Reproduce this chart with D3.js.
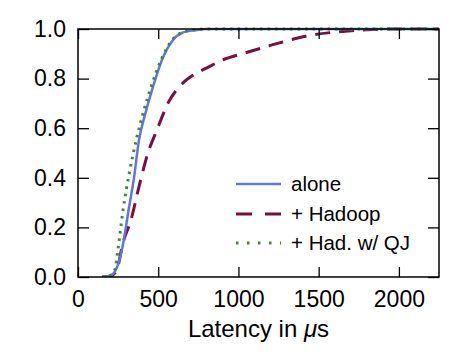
<!DOCTYPE html>
<html lang="en">
	<head>
		<meta charset="utf-8">
		<title>Latency CDF</title>
		<script type="text/javascript" src="https://cdn.jsdelivr.net/npm/d3@7"></script>
		<style type="text/css">
			body { margin: 0; background: #fff; }
			text { font-family: "Liberation Sans", Arial, sans-serif; }
		</style>
	</head>
	<body>
		<script type="text/javascript">

			//Data (latency in us, cumulative fraction)
			var seriesNames = ["alone", "+ Hadoop", "+ Had. w/ QJ"];

			var aloneX = [150, 200, 237, 274, 318, 349, 380, 420, 467, 523, 592, 650, 741, 800, 2250];
			var aloneY = [0, 0.005, 0.03, 0.11, 0.28, 0.40, 0.552, 0.66, 0.766, 0.875, 0.956, 0.985, 0.996, 1, 1];

			var hadoopX = [150, 200, 220, 243, 280, 330, 386, 436, 492, 560, 654, 720, 800, 900, 1050, 1250, 1450, 1650, 1800, 2000, 2250];
			var hadoopY = [0, 0.002, 0.01, 0.03, 0.137, 0.23, 0.38, 0.50, 0.593, 0.70, 0.782, 0.815, 0.842, 0.875, 0.905, 0.943, 0.975, 0.99, 0.997, 1, 1];

			var qjX = [150, 200, 230, 249, 283, 320, 362, 410, 455, 518, 588, 650, 730, 800, 2250];
			var qjY = [0, 0.006, 0.03, 0.11, 0.28, 0.42, 0.55, 0.67, 0.766, 0.875, 0.956, 0.986, 0.997, 1, 1];

			var xTicks = [0, 500, 1000, 1500, 2000];
			var yTicks = [0, 0.2, 0.4, 0.6, 0.8, 1.0];

			var colors = ["#5a78e0", "#7a0e40", "#3f8a2a"];
			var dashes = [null, "15,9", "2.5,5"];
			var legendDashes = [null, "16,13", "2.5,8.5"];

			var w = 459;
			var h = 363;
			var plotL = 78, plotR = 439, plotT = 29, plotB = 277;

			var xScale = d3.scaleLinear()
							.domain([0, 2250])
							.range([plotL, plotR]);

			var yScale = d3.scaleLinear()
							.domain([0, 1])
							.range([plotB, plotT]);

			var svg = d3.select("body")
						.append("svg")
						.attr("width", w)
						.attr("height", h);

			//Series
			var data = [
				d3.zip(aloneX, aloneY),
				d3.zip(hadoopX, hadoopY),
				d3.zip(qjX, qjY)
			];

			var line = d3.line()
						.x(function(d) { return xScale(d[0]); })
						.y(function(d) { return yScale(d[1]); })
						.curve(d3.curveMonotoneX);

			svg.append("clipPath")
				.attr("id", "plot")
				.append("rect")
				.attr("x", plotL)
				.attr("y", plotT - 2)
				.attr("width", plotR - plotL)
				.attr("height", plotB - plotT + 2);

			//draw order: hadoop, alone, qj on top
			[1, 0, 2].forEach(function(i) {
				svg.append("path")
					.datum(data[i])
					.attr("clip-path", "url(#plot)")
					.attr("d", line)
					.attr("fill", "none")
					.attr("stroke", colors[i])
					.attr("stroke-width", i == 0 ? 2.5 : 3)
					.attr("stroke-dasharray", dashes[i]);
			});

			//Axes, ticks inward on all four sides
			var xAxisB = d3.axisBottom(xScale).tickValues(xTicks).tickSize(-10).tickPadding(14)
							.tickFormat(d3.format("d"));
			var xAxisT = d3.axisTop(xScale).tickValues(xTicks).tickSize(-10).tickFormat("");
			var yAxisL = d3.axisLeft(yScale).tickValues(yTicks).tickSize(-11).tickPadding(12)
							.tickFormat(d3.format(".1f"));
			var yAxisR = d3.axisRight(yScale).tickValues(yTicks).tickSize(-11).tickFormat("");

			svg.append("g").attr("transform", "translate(0," + plotB + ")").call(xAxisB);
			svg.append("g").attr("transform", "translate(0," + plotT + ")").call(xAxisT);
			svg.append("g").attr("transform", "translate(" + plotL + ",0)").call(yAxisL);
			svg.append("g").attr("transform", "translate(" + plotR + ",0)").call(yAxisR);

			svg.selectAll(".domain").remove();
			svg.selectAll(".tick line")
				.attr("stroke", "#000")
				.attr("stroke-width", 1.3);
			svg.selectAll(".tick text")
				.attr("font-size", "23px")
				.attr("fill", "#000");

			svg.append("rect")
				.attr("x", plotL)
				.attr("y", plotT)
				.attr("width", plotR - plotL)
				.attr("height", plotB - plotT)
				.attr("fill", "none")
				.attr("stroke", "#000")
				.attr("stroke-width", 1.5);

			//Axis title
			var title = svg.append("text")
							.attr("x", (plotL + plotR) / 2)
							.attr("y", 337)
							.attr("text-anchor", "middle")
							.attr("font-size", "24px");
			title.append("tspan").text("Latency in ");
			title.append("tspan").attr("font-style", "italic").text("\u03bc");
			title.append("tspan").text("s");

			//Legend
			var legendY = [184, 214, 243];
			seriesNames.forEach(function(name, i) {
				svg.append("line")
					.attr("x1", 236)
					.attr("x2", 281)
					.attr("y1", legendY[i])
					.attr("y2", legendY[i])
					.attr("stroke", colors[i])
					.attr("stroke-width", i == 0 ? 2.5 : 3)
					.attr("stroke-dasharray", legendDashes[i]);
				svg.append("text")
					.attr("x", 291)
					.attr("y", legendY[i] + 7)
					.attr("font-size", "20.5px")
					.text(name);
			});

		</script>
	</body>
</html>
